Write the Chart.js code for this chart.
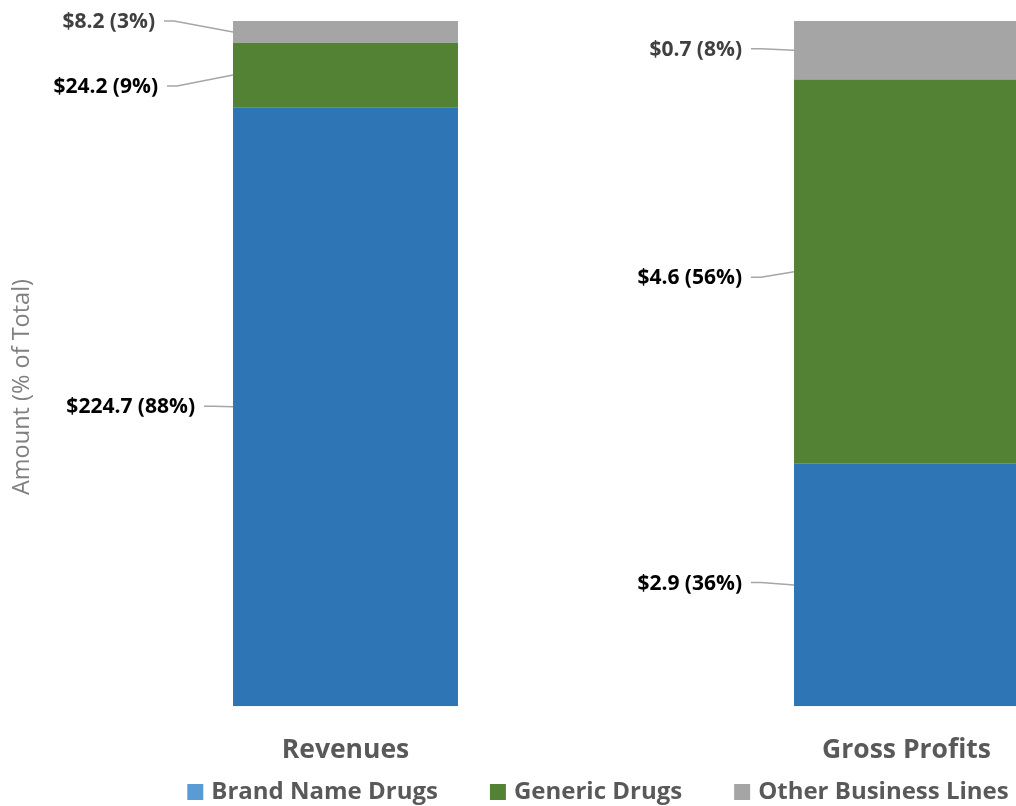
<!DOCTYPE html>
<html>
<head>
<meta charset="utf-8">
<script src="https://cdn.jsdelivr.net/npm/chart.js@4"></script>
<style>
  html, body { margin: 0; padding: 0; background: #ffffff; overflow: hidden; }
  #wrap { width: 1190px; height: 806px; }
</style>
</head>
<body>
<div id="wrap"><canvas id="chart" width="1190" height="806"></canvas></div>
<script>
// Amounts in $ billions
const categories = ['Revenues', 'Gross Profits'];
const seriesNames = ['Brand Name Drugs', 'Generic Drugs', 'Other Business Lines'];
const brandNameDrugs = [224.7, 2.9];
const genericDrugs = [24.2, 4.6];
const otherBusinessLines = [8.2, 0.7];
// Share of total, as printed in the labels
const brandNamePct = [88, 36];
const genericPct = [9, 56];
const otherPct = [3, 8];

const amounts = [brandNameDrugs, genericDrugs, otherBusinessLines];
const pcts = [brandNamePct, genericPct, otherPct];
const totals = categories.map((_, j) => amounts.reduce((s, a) => s + a[j], 0));
const shares = amounts.map(a => a.map((v, j) => v / totals[j] * 100));

const barColors = ['#2E75B6', '#548235', '#A5A5A5'];
const swatchColors = ['#5B9BD5', '#548235', '#A5A5A5'];
const labelColors = ['#000000', '#000000', '#404040'];

// Label placement per [series][category]: gap from bar's left edge to text end, vertical shift
const labelPlacement = [
  [{ gap: 38, dy: 0.5 }, { gap: 52, dy: -1.5 }],
  [{ gap: 75, dy: 12 },  { gap: 52, dy: 6.5 }],
  [{ gap: 78, dy: -10 }, { gap: 52, dy: -0.5 }]
];

const FONT = '"Open Sans", "DejaVu Sans", sans-serif';

const leaderLabels = {
  id: 'leaderLabels',
  afterDatasetsDraw(chart) {
    const ctx = chart.ctx;
    ctx.save();
    ctx.font = 'bold 21px ' + FONT;
    ctx.textBaseline = 'middle';
    ctx.textAlign = 'right';
    chart.data.datasets.forEach((ds, i) => {
      const meta = chart.getDatasetMeta(i);
      meta.data.forEach((bar, j) => {
        const p = bar.getProps(['x', 'y', 'base', 'width'], true);
        const left = p.x - p.width / 2;
        const mid = (p.y + p.base) / 2;
        const pl = labelPlacement[i][j];
        const textRight = left - pl.gap;
        const ty = mid + pl.dy;
        const text = '$' + amounts[i][j].toFixed(1) + ' (' + pcts[i][j] + '%)';
        ctx.fillStyle = labelColors[i];
        ctx.fillText(text, textRight, ty);
        const sx = textRight + 9;
        const ly = ty - 1;
        ctx.strokeStyle = '#A6A6A6';
        ctx.lineWidth = 1.5;
        ctx.beginPath();
        ctx.moveTo(sx, ly);
        ctx.lineTo(sx + 10, ly);
        ctx.lineTo(left, mid);
        ctx.stroke();
      });
    });
    ctx.restore();
  }
};

const sideTitle = {
  id: 'sideTitle',
  afterDraw(chart) {
    const ctx = chart.ctx;
    ctx.save();
    ctx.translate(22, 387);
    ctx.rotate(-Math.PI / 2);
    ctx.font = '23.5px ' + FONT;
    ctx.fillStyle = '#808080';
    ctx.textAlign = 'center';
    ctx.textBaseline = 'middle';
    ctx.fillText('Amount (% of Total)', 0, 0);
    ctx.restore();
  }
};

const bottomLegend = {
  id: 'bottomLegend',
  afterDraw(chart) {
    const ctx = chart.ctx;
    ctx.save();
    ctx.font = 'bold 24px ' + FONT;
    ctx.textBaseline = 'middle';
    ctx.textAlign = 'left';
    const box = 16, boxGap = 8, itemGap = 52;
    const items = chart.data.datasets.map((ds, i) => ({
      text: ds.label, color: swatchColors[i], w: box + boxGap + ctx.measureText(ds.label).width
    }));
    const total = items.reduce((s, it) => s + it.w, 0) + itemGap * (items.length - 1);
    let x = chart.width / 2 - total / 2 + 3;
    const y = 792;
    items.forEach(it => {
      ctx.fillStyle = it.color;
      ctx.fillRect(x, y - box / 2, box, box);
      ctx.fillStyle = '#595959';
      ctx.fillText(it.text, x + box + boxGap, y);
      x += it.w + itemGap;
    });
    ctx.restore();
  }
};

new Chart(document.getElementById('chart'), {
  type: 'bar',
  data: {
    labels: categories,
    datasets: seriesNames.map((name, i) => ({
      label: name,
      data: shares[i],
      backgroundColor: barColors[i],
      borderWidth: 0,
      barPercentage: 0.401,
      categoryPercentage: 1.0
    }))
  },
  options: {
    responsive: false,
    animation: false,
    layout: { padding: { left: 65, right: 3, top: 21, bottom: 20 } },
    plugins: {
      legend: { display: false },
      tooltip: { enabled: false }
    },
    scales: {
      x: {
        stacked: true,
        grid: { display: false },
        border: { display: false },
        ticks: {
          padding: 20,
          color: '#595959',
          font: { family: FONT, size: 26.5, weight: 'bold' }
        }
      },
      y: {
        stacked: true,
        display: false,
        min: 0,
        max: 100
      }
    }
  },
  plugins: [leaderLabels, sideTitle, bottomLegend]
});
</script>
</body>
</html>
